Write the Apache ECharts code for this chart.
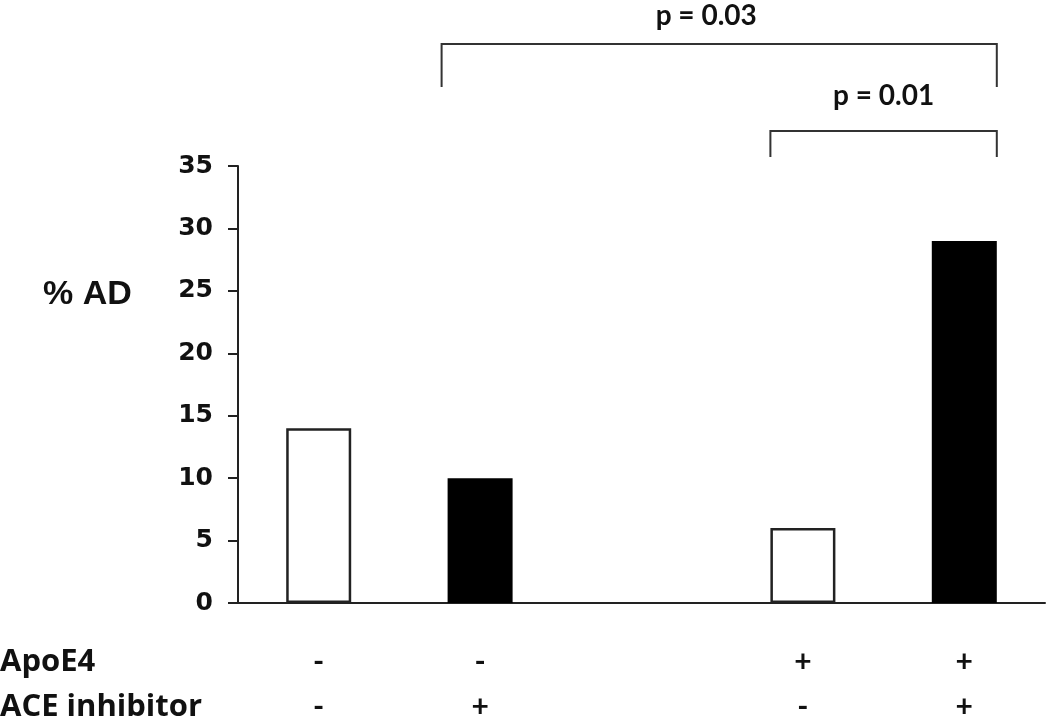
<!DOCTYPE html>
<html>
<head>
<meta charset="utf-8">
<script src="https://cdn.jsdelivr.net/npm/echarts@6/dist/echarts.min.js"></script>
<style>html,body{margin:0;padding:0;background:#fff;}#c{width:1050px;height:720px;}</style>
</head>
<body>
<div id="c"></div>
<script>
// Data
var apoe4 = ['-', '-', '', '+', '+'];
var aceInhibitor = ['-', '+', '', '-', '+'];
var pctAD = [14, 10, null, 6, 29];
var filled = [false, true, false, false, true];
var yTicks = [0, 5, 10, 15, 20, 25, 30, 35];
var comparisons = [
  {from: 1, to: 4, label: 'p = 0.03', level: 0},
  {from: 3, to: 4, label: 'p = 0.01', level: 1}
];

var categories = apoe4.map(function (a, i) { return a + '\n' + aceInhibitor[i]; });
var BAR_W = 65;

var chart = echarts.init(document.getElementById('c'));
var option = {
  animation: false,
  grid: {left: 238, right: 5, top: 166, bottom: 117, outerBoundsMode: 'none', containLabel: false},
  xAxis: {
    type: 'category',
    data: categories,
    axisLine: {lineStyle: {color: '#222', width: 2}},
    axisTick: {show: false},
    axisLabel: {
      margin: 37,
      lineHeight: 45,
      fontSize: 30,
      fontWeight: 'bold',
      fontFamily: 'Lato',
      color: '#111',
      interval: 0
    }
  },
  yAxis: {
    type: 'value',
    min: 0,
    max: 35,
    interval: 5,
    splitLine: {show: false},
    axisLine: {show: true, lineStyle: {color: '#222', width: 2}},
    axisTick: {show: true, length: 10, lineStyle: {color: '#222', width: 2}},
    axisLabel: {
      margin: 25,
      fontSize: 25,
      fontWeight: 'bold',
      fontFamily: 'DejaVu Sans',
      color: '#111',
      formatter: function (v) { return yTicks.indexOf(v) >= 0 ? String(v) : ''; }
    }
  },
  series: [{
    type: 'bar',
    barWidth: BAR_W,
    data: pctAD.map(function (v, i) {
      return {
        value: v,
        itemStyle: filled[i]
          ? {color: '#000', borderColor: '#000', borderWidth: 2}
          : {color: '#fff', borderColor: '#222', borderWidth: 2.5}
      };
    })
  }],
  graphic: [
    {type: 'text', x: 43, y: 295, style: {text: '% AD', font: 'bold 34px "Liberation Sans"', fill: '#111', textVerticalAlign: 'middle'}},
    {type: 'text', x: 0, y: 662, style: {text: 'ApoE4', font: 'bold 31px "Open Sans"', fill: '#111', textVerticalAlign: 'middle'}},
    {type: 'text', x: 0, y: 707, style: {text: 'ACE inhibitor', font: 'bold 31px "Open Sans"', fill: '#111', textVerticalAlign: 'middle'}}
  ]
};
chart.setOption(option);

// Significance brackets from axis positions
var levels = [{y: 44, drop: 87, textY: 16, textShift: -13}, {y: 131, drop: 157, textY: 96, textShift: 0}];
var g = option.graphic.slice();
comparisons.forEach(function (c) {
  var L = levels[c.level];
  var x1 = chart.convertToPixel({xAxisIndex: 0}, c.from) - BAR_W / 2 - (c.level === 0 ? 6 : 0);
  var x2 = chart.convertToPixel({xAxisIndex: 0}, c.to) + BAR_W / 2;
  g.push({type: 'polyline', shape: {points: [[x1, L.drop], [x1, L.y], [x2, L.y], [x2, L.drop]]},
    style: {stroke: '#333', lineWidth: 2, fill: null}});
  g.push({type: 'text', x: (x1 + x2) / 2 + L.textShift, y: L.textY,
    style: {text: c.label, font: 'bold 28px Lato', fill: '#111', textAlign: 'center', textVerticalAlign: 'middle'}});
});
chart.setOption({graphic: g});
</script>
</body>
</html>
